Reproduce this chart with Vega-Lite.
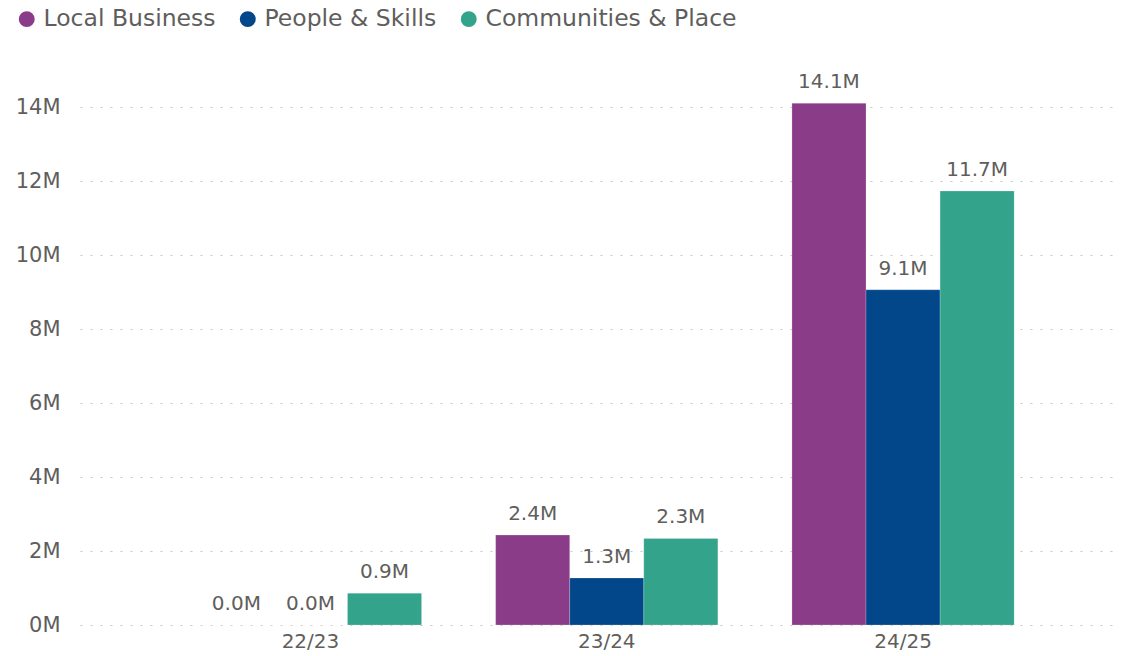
{
  "$schema": "https://vega.github.io/schema/vega-lite/v6.json",
  "width": 1040,
  "height": 555,
  "autosize": {"type": "none"},
  "padding": {"left": 80, "top": 70, "right": 15, "bottom": 31},
  "background": "white",
  "config": {
    "view": {"stroke": null},
    "font": "DejaVu Sans",
    "axis": {"labelFont": "DejaVu Sans", "labelColor": "#605E5C", "labelFontSize": 20}
  },
  "data": {
    "values": [
      {"year": "22/23", "category": "Local Business", "value": 0.0},
      {"year": "22/23", "category": "People & Skills", "value": 0.0},
      {"year": "22/23", "category": "Communities & Place", "value": 0.86},
      {"year": "23/24", "category": "Local Business", "value": 2.43},
      {"year": "23/24", "category": "People & Skills", "value": 1.27},
      {"year": "23/24", "category": "Communities & Place", "value": 2.34},
      {"year": "24/25", "category": "Local Business", "value": 14.1},
      {"year": "24/25", "category": "People & Skills", "value": 9.06},
      {"year": "24/25", "category": "Communities & Place", "value": 11.73}
    ]
  },
  "transform": [
    {"calculate": "format(datum.value, '.1f') + 'M'", "as": "label"}
  ],
  "encoding": {
    "x": {
      "field": "year", "type": "nominal", "title": null,
      "scale": {"paddingInner": 0.25, "paddingOuter": 0.38, "align": 0.53},
      "axis": {"labelAngle": 0, "domain": false, "ticks": false, "labelPadding": 6, "grid": false, "labelFontSize": 20}
    },
    "xOffset": {
      "field": "category", "type": "nominal",
      "sort": ["Local Business", "People & Skills", "Communities & Place"],
      "scale": {"paddingInner": 0, "paddingOuter": 0}
    },
    "y": {
      "field": "value", "type": "quantitative", "title": null,
      "scale": {"domain": [0, 15], "nice": false},
      "axis": {
        "values": [0, 2, 4, 6, 8, 10, 12, 14],
        "labelExpr": "datum.value + 'M'",
        "domain": false, "ticks": false, "labelPadding": 20, "labelFontSize": 21,
        "grid": true, "gridColor": "#C8C6C4", "gridDash": [2, 8], "gridWidth": 1.2
      }
    }
  },
  "layer": [
    {
      "mark": {"type": "bar", "stroke": "white", "strokeWidth": 0.5, "strokeOpacity": 0.4},
      "encoding": {
        "color": {
          "field": "category", "type": "nominal",
          "sort": ["Local Business", "People & Skills", "Communities & Place"],
          "scale": {
            "domain": ["Local Business", "People & Skills", "Communities & Place"],
            "range": ["#8B3C88", "#01478A", "#34A38B"]
          },
          "legend": {
            "title": null, "orient": "none", "legendX": -65, "legendY": -63,
            "direction": "horizontal", "symbolType": "circle", "symbolSize": 254,
            "labelFontSize": 23.5, "labelColor": "#605E5C", "labelFont": "DejaVu Sans",
            "labelLimit": 400,
            "symbolOpacity": 1, "symbolStrokeWidth": 0, "labelOffset": 5, "columnPadding": 20
          }
        }
      }
    },
    {
      "mark": {"type": "text", "baseline": "alphabetic", "dy": -15, "fontSize": 20, "color": "#605E5C", "font": "DejaVu Sans"},
      "encoding": {"text": {"field": "label"}}
    }
  ]
}
